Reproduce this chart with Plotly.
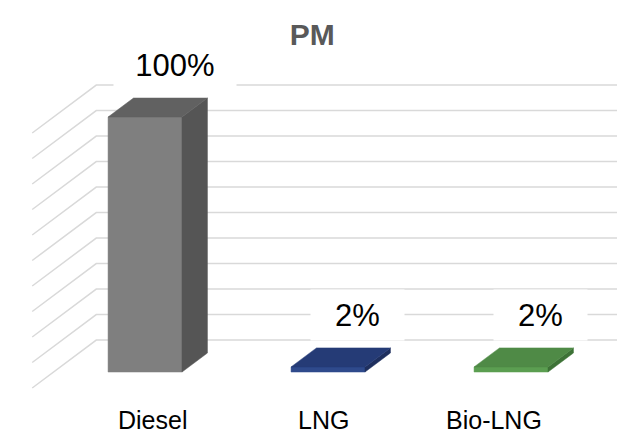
import plotly.graph_objects as go

# Relative PM emissions by fuel (Diesel = 100%)
categories = ["Diesel", "LNG", "Bio-LNG"]
pm_share = [100, 2, 2]
grid_ticks = list(range(0, 101, 10))

# Face colours per bar: front, side, top
front_colors = ["#7f7f7f", "#2f4a8c", "#5b9e51"]
side_colors = ["#555555", "#1e2f5e", "#3d7236"]
top_colors = ["#616161", "#253b76", "#4f8a46"]

# Oblique 3-D projection: depth d runs from 0 (front of floor) to 1 (back wall)
DEPTH_DX = 0.35      # horizontal shift per unit depth, in category units
DEPTH_DY = 18.8      # vertical shift per unit depth, in percent units
BAR_HALF = 0.202     # half bar width, in category units
BAR_D0, BAR_D1 = 0.333, 0.73   # bar depth extent
FLOOR_L, FLOOR_R = -0.5, 2.5
LABEL_SPREAD, LABEL_SHIFT = 0.932, 0.16

FONT = "Liberation Sans, Arial, sans-serif"


def proj(c, v, d):
    return c + d * DEPTH_DX, v + d * DEPTH_DY


def poly(points):
    xs, ys = zip(*[proj(*p) for p in points])
    return list(xs) + [xs[0]], list(ys) + [ys[0]]


fig = go.Figure()

# Gridlines: back wall horizontals and left side-wall diagonals
for t in grid_ticks:
    x0, y0 = proj(FLOOR_L, t, 0)
    x1, y1 = proj(FLOOR_L, t, 1)
    x2, y2 = proj(FLOOR_R, t, 1)
    fig.add_trace(go.Scatter(
        x=[x0, x1, x2], y=[y0, y1, y2], mode="lines",
        line=dict(color="#d9d9d9", width=1.5),
        hoverinfo="skip", showlegend=False))

# 3-D bars
for i, (cat, val) in enumerate(zip(categories, pm_share)):
    l, r = i - BAR_HALF, i + BAR_HALF
    faces = [
        (poly([(l, 0, BAR_D0), (r, 0, BAR_D0), (r, val, BAR_D0), (l, val, BAR_D0)]), front_colors[i]),
        (poly([(r, 0, BAR_D0), (r, 0, BAR_D1), (r, val, BAR_D1), (r, val, BAR_D0)]), side_colors[i]),
        (poly([(l, val, BAR_D0), (r, val, BAR_D0), (r, val, BAR_D1), (l, val, BAR_D1)]), top_colors[i]),
    ]
    for (xs, ys), col in faces:
        fig.add_trace(go.Scatter(
            x=xs, y=ys, mode="lines", fill="toself", fillcolor=col,
            line=dict(color=col, width=0.5),
            hoverinfo="skip", showlegend=False, name=cat))

annotations = []
# Value labels on white boxes
for i, val in enumerate(pm_share):
    text = f"{val}%"
    annotations.append(dict(
        x=i + 0.279, y=val + 26.6, xref="x", yref="y", text=text,
        showarrow=False, font=dict(family=FONT, size=31, color="#000000"),
        bgcolor="#ffffff", width=64 + 14.5 * len(text), height=50,
        borderpad=0, xanchor="center", yanchor="middle"))

# Category labels along the front edge
for i, cat in enumerate(categories):
    annotations.append(dict(
        x=i * LABEL_SPREAD + LABEL_SHIFT, y=-12.4, xref="x", yref="y",
        text=cat, showarrow=False, height=26, borderpad=0,
        font=dict(family=FONT, size=25, color="#000000"),
        xanchor="center", yanchor="middle"))

fig.update_layout(
    width=617, height=434,
    margin=dict(l=0, r=0, t=0, b=0),
    paper_bgcolor="#ffffff", plot_bgcolor="#ffffff",
    title=dict(text="<b>PM</b>", x=0.506, y=0.92, xanchor="center", yanchor="middle",
               font=dict(family=FONT, size=30, color="#595959")),
    xaxis=dict(range=[-0.676, 2.6956], visible=False, fixedrange=True),
    yaxis=dict(range=[-18.04, 152.16], visible=False, fixedrange=True),
    annotations=annotations,
    showlegend=False,
)

fig.write_html("out.html")
